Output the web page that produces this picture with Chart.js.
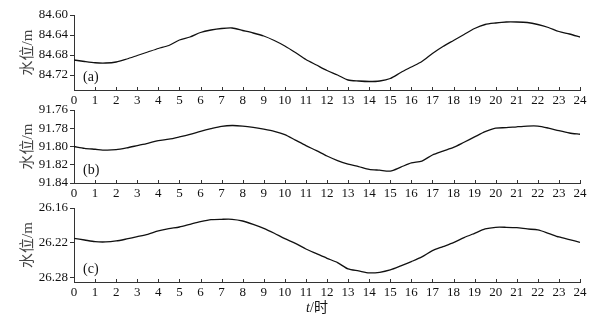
<!DOCTYPE html>
<html>
<head>
<meta charset="utf-8">
<script src="https://cdn.jsdelivr.net/npm/chart.js@4/dist/chart.umd.min.js"></script>
<style>
  html, body { margin: 0; padding: 0; background: #fff; }
  #wrap { position: relative; width: 614px; height: 320px; overflow: hidden; }
  canvas { position: absolute; left: 0; }
</style>
</head>
<body>
<div id="wrap">
  <canvas id="chartA" width="614" height="110" style="top:0px"></canvas>
  <canvas id="chartB" width="614" height="100" style="top:100px"></canvas>
  <canvas id="chartC" width="614" height="125" style="top:195px"></canvas>
</div>
<script>
// ===== time axis (hours) =====
const hours = [0, 0.5, 1, 1.5, 2, 2.5, 3, 3.5, 4, 4.5, 5, 5.5, 6, 6.5, 7, 7.5, 8, 8.5,
  9, 9.5, 10, 10.5, 11, 11.5, 12, 12.5, 13, 13.5, 14, 14.5, 15, 15.5, 16, 16.5,
  17, 17.5, 18, 18.5, 19, 19.5, 20, 20.5, 21, 21.5, 22, 22.5, 23, 23.5, 24];

// ===== water levels, panel (a) =====
const levelA = [84.690, 84.693, 84.6955, 84.696, 84.694, 84.688, 84.681, 84.674, 84.667,
  84.661, 84.650, 84.644, 84.635, 84.630, 84.627, 84.626, 84.631, 84.636, 84.642,
  84.651, 84.662, 84.675, 84.689, 84.700, 84.711, 84.720, 84.730, 84.732, 84.733,
  84.732, 84.727, 84.715, 84.704, 84.693, 84.677, 84.663, 84.651, 84.639, 84.627,
  84.619, 84.616, 84.614, 84.614, 84.615, 84.619, 84.625, 84.633, 84.638, 84.644];

// ===== water levels, panel (b) =====
const levelB = [91.800, 91.802, 91.803, 91.804, 91.8035, 91.8015, 91.799, 91.7965, 91.7935,
  91.792, 91.7895, 91.7867, 91.7834, 91.7805, 91.778, 91.777, 91.7776, 91.779, 91.781,
  91.7834, 91.787, 91.793, 91.799, 91.8045, 91.8104, 91.8154, 91.8194, 91.822, 91.825,
  91.826, 91.827, 91.8226, 91.818, 91.816, 91.8093, 91.805, 91.801, 91.7953, 91.7895,
  91.7838, 91.7798, 91.7794, 91.7784, 91.7776, 91.7776, 91.7798, 91.7827, 91.7852, 91.7866];

// ===== water levels, panel (c) =====
const levelC = [26.212, 26.2149, 26.2178, 26.2183, 26.2166, 26.2131, 26.2092, 26.2051, 26.1994,
  26.1955, 26.1926, 26.188, 26.1835, 26.180, 26.1794, 26.1794, 26.1823, 26.188, 26.1949,
  26.2034, 26.2126, 26.2206, 26.2303, 26.2383, 26.2463, 26.2537, 26.2646, 26.268, 26.2714,
  26.2703, 26.2663, 26.2594, 26.252, 26.244, 26.2332, 26.2263, 26.2194, 26.2109, 26.2034,
  26.196, 26.1931, 26.1931, 26.1937, 26.196, 26.1977, 26.2034, 26.2097, 26.2143, 26.2189];

// ===== tick labels =====
const xTicks = [0, 1, 2, 3, 4, 5, 6, 7, 8, 9, 10, 11, 12, 13, 14, 15, 16, 17, 18, 19, 20, 21, 22, 23, 24];
const yTicksA = [84.60, 84.64, 84.68, 84.72];
const yTicksB = [91.76, 91.78, 91.80, 91.82, 91.84];
const yTicksC = [26.16, 26.22, 26.28];

const AXIS = '#333';
const SERIF = '"Liberation Serif", "Times New Roman", serif';

// ticks on x axis pointing up, panel tag, y title
const decor = {
    id: 'decor',
    afterDraw(chart, args, opts) {
        const { ctx, chartArea, scales: { x } } = chart;
        ctx.save();
        ctx.strokeStyle = AXIS;
        ctx.lineWidth = 1;
        x.ticks.forEach(t => {
            const px = Math.round(x.getPixelForValue(t.value)) + 0.5;
            ctx.beginPath();
            ctx.moveTo(px, chartArea.bottom);
            ctx.lineTo(px, chartArea.bottom - 3);
            ctx.stroke();
        });

        ctx.fillStyle = '#111';
        ctx.font = '14px ' + SERIF;
        ctx.textBaseline = 'middle';
        ctx.textAlign = 'left';
        ctx.fillText(opts.tag, chartArea.left + 9, chartArea.bottom - 13);

        if (opts.xTitle) {
            ctx.font = 'italic 14px ' + SERIF;
            ctx.fillText('t', 306, chartArea.bottom + 26);
            ctx.font = '14px ' + SERIF + ', "Noto Sans CJK SC"';
            ctx.fillText('/时', 310, chartArea.bottom + 26);
        }

        ctx.translate(28, (chartArea.top + chartArea.bottom) / 2);
        ctx.rotate(-Math.PI / 2);
        ctx.textAlign = 'center';
        ctx.fillStyle = '#444';
        ctx.font = '15px ' + SERIF + ', "Noto Sans CJK SC"';
        ctx.fillText('水位/m', 0, 0);
        ctx.restore();
    }
};

function makePanel(id, values, yMin, yMax, yTicks, tag, padTop, xAxisH, xTitle) {
    const ctx = document.getElementById(id).getContext('2d');
    return new Chart(ctx, {
        type: 'line',
        data: {
            datasets: [{
                data: hours.map((h, i) => ({ x: h, y: values[i] })),
                borderColor: '#111',
                borderWidth: 1.3,
                pointRadius: 0,
                tension: 0.25,
                fill: false
            }]
        },
        options: {
            responsive: false,
            animation: false,
            layout: { padding: { top: padTop, right: 34, left: 0, bottom: 0 } },
            plugins: {
                legend: { display: false },
                tooltip: { enabled: false },
                decor: { tag, xTitle }
            },
            scales: {
                x: {
                    type: 'linear',
                    min: 0,
                    max: 24,
                    afterBuildTicks: s => { s.ticks = xTicks.map(v => ({ value: v })); },
                    afterFit: s => { s.height = xAxisH; },
                    grid: { display: false, drawTicks: false },
                    border: { display: true, color: AXIS, width: 1 },
                    ticks: {
                        padding: 3,
                        maxRotation: 0,
                        autoSkip: false,
                        color: '#111',
                        font: { family: SERIF, size: 13 },
                        callback: v => String(v)
                    }
                },
                y: {
                    min: yMin,
                    max: yMax,
                    reverse: true,
                    afterBuildTicks: s => { s.ticks = yTicks.map(v => ({ value: v })); },
                    afterFit: s => { s.width = 74; },
                    grid: { drawOnChartArea: false, drawTicks: true, tickLength: 4, tickColor: AXIS },
                    border: { display: true, color: AXIS, width: 1 },
                    ticks: {
                        padding: 2,
                        autoSkip: false,
                        color: '#111',
                        font: { family: SERIF, size: 13 },
                        callback: v => v.toFixed(2)
                    }
                }
            }
        },
        plugins: [decor]
    });
}

makePanel('chartA', levelA, 84.60, 84.75, yTicksA, '(a)', 15, 20, false);
makePanel('chartB', levelB, 91.76, 91.84, yTicksB, '(b)', 10, 17, false);
makePanel('chartC', levelC, 26.16, 26.287, yTicksC, '(c)', 13, 38, true);
</script>
</body>
</html>
